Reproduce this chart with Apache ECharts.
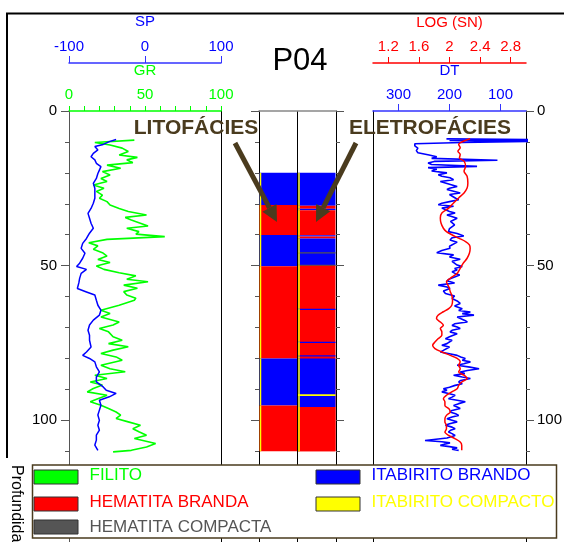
<!DOCTYPE html>
<html>
<head>
<meta charset="utf-8">
<script src="https://cdn.jsdelivr.net/npm/echarts@6/dist/echarts.min.js"></script>
<style>
  html, body { margin: 0; padding: 0; background: #fff; }
  #chart { width: 564px; height: 542px; }
</style>
</head>
<body>
<div id="chart"></div>
<script>
// depth (m) / value pairs
const grDepth = [9.4,10.2,11,12,13.1,14.2,15,15.8,16.7,17.5,18.5,19.6,20.7,21.8,22.8,23.9,25,26,27.2,28.2,29.3,30.4,31.5,32.5,33.6,34.4,35.2,36.1,37.2,37.9,39,39.8,40.6,41.5,42.6,43.6,44.7,45.8,46.9,48,49,50.1,51.2,52.3,53.3,54.4,55.2,56.3,57.3,58.4,59.5,60.5,61.2,62.8,64.4,65.5,66.6,68.2,69.2,70.3,71.4,73,74.1,75.2,76.2,77.3,78.4,79.5,80.6,82.2,83.3,84.3,85.4,86.5,87.6,88.6,89.7,90.8,91.9,93,94,95.1,96.2,97.3,98.3,99.4,100.5,101.6,102.7,103.7,104.8,105.9,107.5,108.6,109.7,110.2];
const grValues = [43,17,27,35,39,33,45,38,42,25,34,22,27,21,25,16,23,18,22,20,25,27,33,39,51,37,41,46,52,38,46,44,63,25,13,19,16,22,25,19,27,18,23,33,44,38,52,36,45,36,38,44,43,33,21,27,21,33,29,20,26,29,35,26,39,29,21,31,35,21,27,37,17,25,14,22,16,12,25,19,14,21,26,31,34,31,39,47,42,46,51,43,57,51,41,29];

const spDepth = [9.2,9.9,10.8,11.5,12.6,13.7,14.8,15.8,16.9,18,19.1,20.2,21.8,23.4,25,26.6,28.2,29.8,31.5,33.1,34.7,36.3,37.9,39.5,41.2,42.8,44.4,46,47.6,49.2,50.3,51.2,52.5,54.1,55.5,57.4,58.5,59.5,61.2,62.8,64.4,66,67.6,69.2,70.9,72.5,74.1,76.3,77.9,79,80,81.1,82.7,84.3,86,87.6,89.2,90.3,91.3,92.4,93.5,95.1,96.7,98.3,100,101.6,103.2,104.8,106.4,108,109.7];
const spValues = [-38,-47,-55,-66,-62,-68,-71,-66,-64,-58,-60,-62,-64,-68,-66,-66,-66,-68,-71,-75,-73,-71,-68,-73,-77,-82,-84,-79,-82,-86,-90,-77,-84,-86,-87,-89,-77,-66,-64,-62,-58,-60,-68,-73,-75,-73,-73,-71,-77,-82,-73,-66,-64,-60,-64,-64,-55,-51,-38,-47,-60,-58,-60,-62,-60,-62,-60,-64,-64,-66,-62];

const dtDepth = [9.0,9.25,9.5,9.8,10.2,10.6,11.3,12.0,12.8,13.5,14.2,14.8,15.3,15.9,16.3,16.8,17.3,17.9,18.3,18.8,19.4,20,20.6,21.1,21.6,22.2,22.8,23.3,23.9,24.4,25,25.4,26,26.5,27,27.6,28.2,28.7,29.3,29.8,30.3,30.8,31.4,31.9,32.5,33,33.6,34.1,34.7,35.2,35.7,36.3,36.8,37.3,38,39,39.6,40.4,41,41.7,42.4,43,43.7,44.4,45.1,45.8,46.5,47.2,47.9,48.6,49.2,49.8,50.3,50.9,51.4,52,52.5,53,53.6,54.3,54.9,55.6,56.3,56.9,57.4,58.2,59,59.8,60.6,61.4,62.2,63,63.9,64.5,65,65.5,66,66.6,67.1,67.7,68.2,68.8,69.3,69.8,70.3,70.9,71.4,72,72.5,73,73.6,74.1,74.7,75.2,75.7,76.3,76.8,77.4,77.9,78.5,79,79.5,80,80.6,81.1,81.7,82.2,82.8,83.3,83.9,84.4,84.9,85.4,86,86.5,87.1,87.6,88.2,88.7,89.3,89.8,90.3,90.8,91.4,91.9,92.5,93,93.5,94,94.6,95.2,95.7,96.2,96.8,97.3,97.9,98.4,98.9,99.5,100,100.5,101.1,101.6,102.2,102.7,103.2,103.8,104.3,104.9,105.7,106.5,106.9,107.3,107.7,108.1,108.5,108.9,109.3,109.7];
const dtValues = [206,40,200,40,175,268,268,262,265,262,240,225,235,106,230,242,235,146,242,225,235,205,222,215,199,192,218,215,195,185,200,205,190,179,200,202,188,182,200,215,222,192,215,218,200,189,205,202,185,182,198,199,190,189,200,202,185,172,195,199,185,185,200,199,215,225,192,200,179,195,192,185,175,190,185,195,189,180,179,200,205,190,222,205,199,212,208,190,195,185,179,190,175,182,159,175,152,185,182,170,165,190,195,185,179,195,199,185,182,200,208,195,192,205,215,200,202,212,218,200,185,178,169,175,159,172,185,160,142,165,179,170,192,175,159,178,182,175,189,200,212,205,215,200,189,195,202,185,169,182,192,185,179,195,199,188,182,195,205,195,185,200,208,195,189,198,202,195,189,205,248,215,199,210,218,200,185,195,182];

const snDepth = [9.0,9.7,10.8,11.9,13,14.1,15.2,16.2,17.9,19.5,21.1,23.3,24.9,26.5,28.1,29.8,31.4,33,34.6,36.3,37.9,39,40,41.1,42.2,43.3,44.4,46,47.6,49.2,50.9,52.5,54.1,55.2,56.8,58.4,59.6,61.2,62.8,63.9,64.9,66,67.1,68.2,69.3,70.3,71.4,72.5,73.6,74.7,75.7,76.8,77.9,79,80,81.1,82.2,83.3,84.4,85.4,86.5,87.6,88.7,89.8,90.8,91.9,93,94,95.2,96.2,97.3,98.4,99.5,100.5,101.6,102.7,103.8,104.9,105.9,107,108.1,109.7];
const snValues = [2.27,2.19,2.12,2.14,2.11,2.14,2.13,2.19,2.21,2.19,2.23,2.24,2.23,2.19,2.12,2.05,1.99,1.90,1.88,1.89,1.92,1.96,2.03,2.12,2.21,2.26,2.27,2.26,2.23,2.18,2.14,2.10,2.01,1.96,1.99,2.01,2.03,2.04,2.03,1.99,1.92,1.85,1.83,1.88,1.92,1.88,1.90,1.90,1.85,1.81,1.78,1.81,1.90,2.01,2.10,2.14,2.12,2.14,2.12,2.19,2.23,2.16,2.12,2.10,2.03,1.96,1.92,1.94,1.94,1.99,2.01,1.96,1.94,1.94,1.96,1.96,1.94,1.99,2.07,2.14,2.16,2.16];

// facies classes (legend order) and their colours
const faciesNames = ['FILITO', 'HEMATITA BRANDA', 'HEMATITA COMPACTA', 'ITABIRITO BRANDO', 'ITABIRITO COMPACTO'];
const faciesColors = ['#00ff00', '#ff0000', '#555555', '#0000ff', '#ffff00'];

// [top, base, facies index]
const litofacies = [[20,30.4,3],[30.4,40.1,1],[40.1,50.2,3],[50.2,80,1],[80,95.2,3],[95.2,110,1]];
const eletrofacies = [[20,30.6,3],[30.6,31.6,1],[31.6,32.1,3],[32.1,40.2,1],[40.2,40.6,3],[40.6,41.2,1],[41.2,50,3],[45.7,46.1,2],[49.7,50.1,2],[50,110,1],[63.9,64.3,3],[74.6,75,3],[79,79.4,3],[80,95.7,3],[91.6,92.1,4],[95.7,110,1]];

const depthTicks = [0, 50, 100];
const snTicks = [1.2, 1.6, 2, 2.4, 2.8];
const dtTicks = [100, 200, 300];

const FONT = 'Liberation Sans, Arial, sans-serif';
const BROWN = '#4a3b1e';

function pairs(depths, vals) {
  return depths.map((d, i) => [vals[i], d]);
}

function renderFacies(params, api) {
  const col = api.value(0);
  const p0 = api.coord([col, api.value(1)]);
  const p1 = api.coord([col + 1, api.value(2)]);
  const x0 = p0[0] + 0.5;
  return {
    type: 'group',
    children: [
      { type: 'rect', shape: { x: x0, y: p0[1], width: p1[0] - x0 - 0.5, height: p1[1] - p0[1] },
        style: { fill: faciesColors[api.value(3)] } },
      { type: 'line', shape: { x1: x0 + 1, y1: p0[1], x2: x0 + 1, y2: p1[1] },
        style: { stroke: '#ffff00', lineWidth: 1.5 } }
    ]
  };
}

function depthAxis(grid, pos, opts) {
  return Object.assign({
    type: 'value', gridIndex: grid, position: pos, inverse: true,
    min: 0, max: 150, interval: 50,
    splitLine: { show: false },
    axisLine: { show: true, onZero: false, lineStyle: { color: '#000', width: 1 } },
    axisTick: { show: false },
    axisLabel: { show: false }
  }, opts);
}

const tickedDepth = {
  axisTick: { show: true, length: 8, lineStyle: { color: '#555' } },
  minorTick: { show: true, splitNumber: 5, length: 4, lineStyle: { color: '#555' } }
};

function arrow(x1, y1, x2, y2) {
  const dx = x2 - x1, dy = y2 - y1;
  const len = Math.sqrt(dx * dx + dy * dy);
  const ux = dx / len, uy = dy / len;
  const hl = 16, hw = 8;
  const bx = x2 - ux * hl, by = y2 - uy * hl;
  return [
    { type: 'line', z: 50, shape: { x1: x1, y1: y1, x2: bx, y2: by }, style: { stroke: BROWN, lineWidth: 5 } },
    { type: 'polygon', z: 50, shape: { points: [[x2, y2], [bx - uy * hw, by + ux * hw], [bx + uy * hw, by - ux * hw]] },
      style: { fill: BROWN } }
  ];
}

const legendGraphics = [
  { type: 'rect', z: 100, shape: { x: 32.5, y: 465, width: 524, height: 73 },
    style: { fill: '#fff', stroke: BROWN, lineWidth: 1.5 } }
];
const legendRows = [477, 504, 527];
faciesNames.forEach((name, i) => {
  const colIdx = i < 3 ? 0 : 1;
  const row = i < 3 ? i : i - 3;
  const sx = colIdx === 0 ? 34 : 316;
  const cy = legendRows[row];
  legendGraphics.push({ type: 'rect', z: 101, shape: { x: sx, y: cy - 7, width: 44, height: 14 },
    style: { fill: faciesColors[i], stroke: '#333', lineWidth: 1 } });
  legendGraphics.push({ type: 'text', z: 101, x: sx + 55.5, y: cy - (row < 2 ? 1.5 : 0),
    style: { text: name, fill: faciesColors[i], font: '17px ' + FONT, textAlign: 'left', textVerticalAlign: 'middle' } });
});

const chart = echarts.init(document.getElementById('chart'), null, { renderer: 'canvas' });

chart.setOption({
  animation: false,
  backgroundColor: '#fff',
  textStyle: { fontFamily: FONT },
  title: {
    text: 'P04', left: 295, top: 56, textAlign: 'center', textVerticalAlign: 'middle',
    textStyle: { fontSize: 31, fontWeight: 'normal', color: '#000', fontFamily: FONT }
  },
  grid: [
    { left: 69, top: 111, width: 152, height: 464, outerBoundsMode: 'none' },
    { left: 259, top: 111, width: 77, height: 464, outerBoundsMode: 'none' },
    { left: 373, top: 111, width: 153, height: 464, outerBoundsMode: 'none' }
  ],
  xAxis: [
    { type: 'value', gridIndex: 0, position: 'top', min: 0, max: 100, interval: 50,
      axisLine: { onZero: false, lineStyle: { color: '#00ff00', width: 1.5 } },
      axisTick: { length: 5, lineStyle: { color: '#00ff00' } },
      minorTick: { show: true, splitNumber: 5, length: 5, lineStyle: { color: '#00ff00' } },
      axisLabel: { color: '#00ff00', fontSize: 15, margin: 9 },
      splitLine: { show: false },
      name: 'GR', nameLocation: 'middle', nameGap: 33, nameTextStyle: { color: '#00ff00', fontSize: 15 } },
    { type: 'value', gridIndex: 0, position: 'top', offset: 48, min: -100, max: 100, interval: 100,
      axisLine: { onZero: false, lineStyle: { color: '#3333ff', width: 1.5 } },
      axisTick: { length: 7, lineStyle: { color: '#3333ff' } },
      axisLabel: { color: '#0000ff', fontSize: 15, margin: 9 },
      splitLine: { show: false },
      name: 'SP', nameLocation: 'middle', nameGap: 34, nameTextStyle: { color: '#0000ff', fontSize: 15 } },
    { type: 'value', gridIndex: 1, position: 'top', min: 0, max: 2, interval: 1,
      axisLine: { onZero: false, lineStyle: { color: '#888', width: 1.5 } },
      axisTick: { show: false }, axisLabel: { show: false },
      splitLine: { show: true, lineStyle: { color: '#000', width: 1 } } },
    { type: 'value', gridIndex: 2, position: 'top', inverse: true, min: 50, max: 350,
      axisLine: { onZero: false, lineStyle: { color: '#3333ff', width: 1.5 } },
      axisTick: { customValues: dtTicks, length: 7, lineStyle: { color: '#3333ff' } },
      axisLabel: { customValues: dtTicks, color: '#0000ff', fontSize: 15, margin: 9 },
      splitLine: { show: false },
      name: 'DT', nameLocation: 'middle', nameGap: 33, nameTextStyle: { color: '#0000ff', fontSize: 15 } },
    { type: 'value', gridIndex: 2, position: 'top', offset: 48, min: 1, max: 3,
      axisLine: { onZero: false, lineStyle: { color: '#ff0000', width: 1.5 } },
      axisTick: { customValues: snTicks, length: 6, lineStyle: { color: '#ff0000' } },
      axisLabel: { customValues: snTicks, color: '#ff0000', fontSize: 15, margin: 9 },
      splitLine: { show: false },
      name: 'LOG (SN)', nameLocation: 'middle', nameGap: 33, nameTextStyle: { color: '#ff0000', fontSize: 15 } }
  ],
  yAxis: [
    depthAxis(0, 'left', Object.assign({}, tickedDepth, {
      axisLine: { show: true, onZero: false, lineStyle: { color: '#555' } },
      axisLabel: { show: true, color: '#000', fontSize: 15, margin: 12, customValues: depthTicks } })),
    depthAxis(0, 'right', {}),
    depthAxis(1, 'left', tickedDepth),
    depthAxis(1, 'right', tickedDepth),
    depthAxis(2, 'left', {}),
    depthAxis(2, 'right', Object.assign({}, tickedDepth, {
      axisLabel: { show: true, color: '#000', fontSize: 15, margin: 11, customValues: depthTicks } }))
  ],
  series: [
    { name: 'GR', type: 'line', xAxisIndex: 0, yAxisIndex: 0, data: pairs(grDepth, grValues),
      showSymbol: false, lineStyle: { color: '#00ff00', width: 1.6 } },
    { name: 'SP', type: 'line', xAxisIndex: 1, yAxisIndex: 0, data: pairs(spDepth, spValues),
      showSymbol: false, lineStyle: { color: '#0000ff', width: 1.5 } },
    { name: 'LITOFÁCIES', type: 'custom', xAxisIndex: 2, yAxisIndex: 2, renderItem: renderFacies,
      data: litofacies.map(r => [0, r[0], r[1], r[2]]) },
    { name: 'ELETROFÁCIES', type: 'custom', xAxisIndex: 2, yAxisIndex: 2, renderItem: renderFacies,
      data: eletrofacies.map(r => [1, r[0], r[1], r[2]]) },
    { name: 'DT', type: 'line', xAxisIndex: 3, yAxisIndex: 4, data: pairs(dtDepth, dtValues),
      showSymbol: false, lineStyle: { color: '#0000ff', width: 1.6 } },
    { name: 'LOG (SN)', type: 'line', xAxisIndex: 4, yAxisIndex: 4, data: pairs(snDepth, snValues),
      showSymbol: false, smooth: 0.3, lineStyle: { color: '#ff0000', width: 1.5 } }
  ],
  graphic: [
    { type: 'line', z: 50, shape: { x1: 6, y1: 13.5, x2: 564, y2: 13.5 }, style: { stroke: '#000', lineWidth: 2 } },
    { type: 'line', z: 50, shape: { x1: 7, y1: 13, x2: 7, y2: 458 }, style: { stroke: '#000', lineWidth: 2 } },
    { type: 'text', z: 50, x: 196, y: 128,
      style: { text: 'LITOFÁCIES', fill: BROWN, font: 'bold 21px ' + FONT, textAlign: 'center', textVerticalAlign: 'middle' } },
    { type: 'text', z: 50, x: 430, y: 128,
      style: { text: 'ELETROFÁCIES', fill: BROWN, font: 'bold 21px ' + FONT, textAlign: 'center', textVerticalAlign: 'middle' } },
    ...arrow(235, 143, 277, 222),
    ...arrow(356, 143, 316, 222),
    ...legendGraphics,
    { type: 'text', z: 101, x: 16, y: 465, rotation: -Math.PI / 2,
      style: { text: 'Profundidade (m)', fill: '#000', font: '16px ' + FONT, textAlign: 'left', textVerticalAlign: 'middle' } }
  ]
});
</script>
</body>
</html>
